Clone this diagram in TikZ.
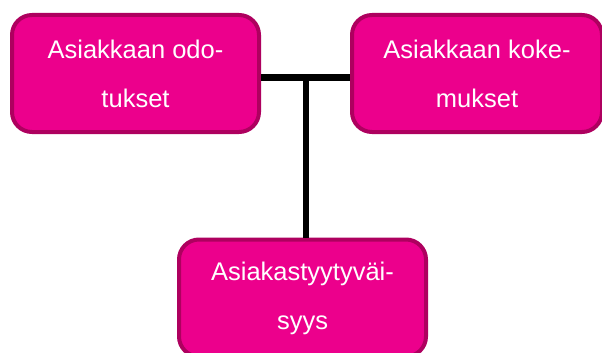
\documentclass[tikz,border=0pt]{standalone}
\usepackage{fontspec}
\setmainfont{Liberation Sans}
\definecolor{boxfill}{HTML}{EC008C}
\definecolor{boxline}{HTML}{AE005F}
\begin{document}
\begin{tikzpicture}[x=1pt,y=1pt,
  box/.style={draw=boxline, fill=boxfill, line width=4pt, rounded corners=20pt,
    text=white, align=center, inner sep=0pt,
    font=\fontsize{25.5}{49}\selectfont},
  conn/.style={draw=black, line width=6.5pt}]
\useasboundingbox (0,0) rectangle (602,-353);
\node[box, minimum width=247pt, minimum height=117pt] (b1) at (135.5,-73.5) {Asiakkaan odo-\\tukset};
\node[box, minimum width=250pt, minimum height=117pt] (b2) at (477,-73.5) {Asiakkaan koke-\\mukset};
\node[box, minimum width=247pt, minimum height=117pt] (b3) at (302.5,-298) {Asiakastyytyväi-\\syys};
\coordinate (j) at (306,-77.5);
\draw[conn] (b1.east |- j) -- (b2.west |- j);
\draw[conn] (j) -- (j |- b3.north);
\end{tikzpicture}
\end{document}
